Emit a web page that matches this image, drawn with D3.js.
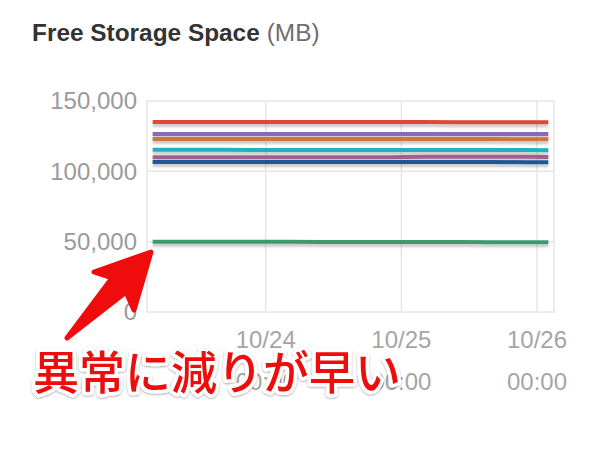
<!DOCTYPE html>
<html>
<head>
<meta charset="utf-8">
<script src="https://cdn.jsdelivr.net/npm/d3@7"></script>
<style>
  html, body { margin: 0; padding: 0; background: #fff; }
  svg { display: block; }
</style>
</head>
<body>
<svg id="chart" width="600" height="457"></svg>
<script>
// ---- data ----
const times = [
  "2016-10-23T04:00", "2016-10-23T10:00", "2016-10-23T16:00", "2016-10-23T22:00",
  "2016-10-24T04:00", "2016-10-24T10:00", "2016-10-24T16:00", "2016-10-24T22:00",
  "2016-10-25T04:00", "2016-10-25T10:00", "2016-10-25T16:00", "2016-10-25T22:00",
  "2016-10-26T02:00"
];
const seriesRed    = [135100,135100,135080,135060,135050,135040,135020,135000,135000,134980,134960,134950,134940];
const seriesPurple = [126600,126590,126580,126570,126560,126550,126540,126530,126520,126510,126500,126490,126480];
const seriesOrange = [123000,122990,122980,122970,122960,122950,122940,122930,122920,122910,122900,122890,122880];
const seriesCyan   = [115300,115280,115260,115240,115220,115200,115180,115160,115140,115120,115100,115080,115060];
const seriesMauve  = [110100,110090,110080,110070,110060,110050,110040,110030,110300,110300,110290,110280,110270];
const seriesBlue   = [106650,106640,106630,106620,106610,106600,106590,106580,106570,106560,106550,106540,106530];
const seriesGreen  = [49950,49930,49910,49890,49870,49850,49830,49810,49790,49770,49600,49580,49560];
const seriesNames  = ["red","purple","orange","cyan","mauve","blue","green"];
const seriesColors = ["#e0463b","#8c67b8","#d2733a","#1cb2c0","#a0608f","#1f5995","#3c9a6e"];
const yTickValues  = [0, 50000, 100000, 150000];
const yTickLabels  = ["0", "50,000", "100,000", "150,000"];
const xTickDates   = ["2016-10-24T00:00", "2016-10-25T00:00", "2016-10-26T00:00"];
const xTickLine1   = ["10/24", "10/25", "10/26"];
const xTickLine2   = ["00:00", "00:00", "00:00"];
const titleMain = "Free Storage Space";
const titleUnit = "(MB)";
const annotation = "異常に減りが早い";

// ---- setup ----
const parse = d3.timeParse("%Y-%m-%dT%H:%M");
const dates = times.map(parse);
const allSeries = [seriesRed, seriesPurple, seriesOrange, seriesCyan, seriesMauve, seriesBlue, seriesGreen];

const pLeft = 147, pRight = 554, pTop = 101, pBottom = 312;
const x = d3.scaleTime()
  .domain([parse("2016-10-23T03:00"), parse("2016-10-26T03:00")])
  .range([pLeft, pRight]);
const y = d3.scaleLinear().domain([0, 150000]).range([pBottom, pTop]);

const svg = d3.select("#chart");
const defs = svg.append("defs");
const sh = defs.append("filter").attr("id", "lineShadow")
  .attr("filterUnits", "userSpaceOnUse")
  .attr("x", 0).attr("y", 0).attr("width", 600).attr("height", 457);
sh.append("feDropShadow").attr("dx", 0).attr("dy", 3).attr("stdDeviation", 1.3)
  .attr("flood-color", "#000").attr("flood-opacity", 0.2);

const ts = defs.append("filter").attr("id", "textShadow")
  .attr("filterUnits", "userSpaceOnUse")
  .attr("x", 0).attr("y", 300).attr("width", 600).attr("height", 157);
ts.append("feDropShadow").attr("dx", 0).attr("dy", 1).attr("stdDeviation", 1.2)
  .attr("flood-color", "#000").attr("flood-opacity", 0.35);

// title
const title = svg.append("text")
  .attr("x", 32).attr("y", 41)
  .attr("font-family", "Liberation Sans, Arial, Helvetica, sans-serif")
  .attr("font-size", 24.4);
title.append("tspan").attr("font-weight", "bold").attr("fill", "#333").text(titleMain);
title.append("tspan").attr("fill", "#6e6e6e").attr("dx", 7).text(titleUnit);

// grid
const grid = svg.append("g");
grid.selectAll("line.h").data(yTickValues.slice(1, 3)).join("line")
  .attr("x1", pLeft).attr("x2", pRight)
  .attr("y1", d => y(d)).attr("y2", d => y(d))
  .attr("stroke", "#e6e6e6").attr("stroke-width", 1.5);
grid.selectAll("line.v").data(xTickDates.map(parse)).join("line")
  .attr("x1", d => x(d)).attr("x2", d => x(d))
  .attr("y1", pTop).attr("y2", pBottom)
  .attr("stroke", "#e6e6e6").attr("stroke-width", 1.5);
grid.append("rect")
  .attr("x", pLeft).attr("y", pTop).attr("width", pRight - pLeft).attr("height", pBottom - pTop)
  .attr("fill", "none").attr("stroke", "#e6e6e6").attr("stroke-width", 1.5);

// y axis labels
const yAxis = d3.axisLeft(y).tickValues(yTickValues)
  .tickFormat((d, i) => yTickLabels[i]).tickSize(0).tickPadding(0);
const gy = svg.append("g").attr("transform", "translate(137,0)").call(yAxis);
gy.select(".domain").remove();
gy.selectAll("text")
  .attr("font-family", "Liberation Sans, Arial, Helvetica, sans-serif")
  .attr("font-size", 24).attr("fill", "#9a9a9a");

// x axis labels (two lines)
const gx = svg.append("g");
const xl = gx.selectAll("text").data(xTickDates).join("text")
  .attr("text-anchor", "middle")
  .attr("font-family", "Liberation Sans, Arial, Helvetica, sans-serif")
  .attr("font-size", 24).attr("fill", "#a5a5a5");
xl.append("tspan").attr("x", d => x(parse(d))).attr("y", 348).text((d, i) => xTickLine1[i]);
xl.append("tspan").attr("x", d => x(parse(d))).attr("y", 390).text((d, i) => xTickLine2[i]);

// lines
const line = d3.line().x((d, i) => x(dates[i])).y(d => y(d));
svg.append("g").selectAll("path").data(allSeries).join("path")
  .attr("d", d => line(d))
  .attr("fill", "none")
  .attr("stroke", (d, i) => seriesColors[i])
  .attr("stroke-width", 4)
  .attr("stroke-linecap", "butt")
  .attr("filter", "url(#lineShadow)");

// arrow
svg.append("path")
  .attr("d", "M151,252 L134,310 L126,292 L67,338 L112,278 L94,272 Z")
  .attr("fill", "#f00c0c").attr("stroke", "#f00c0c")
  .attr("stroke-width", 5).attr("stroke-linejoin", "round");

// annotation text
svg.append("text")
  .attr("x", 33).attr("y", 389)
  .attr("font-family", "Noto Sans CJK JP, sans-serif")
  .attr("font-weight", 500)
  .attr("font-size", 46)
  .attr("fill", "#ee0a0a")
  .attr("stroke", "#fff").attr("stroke-width", 7).attr("stroke-linejoin", "round")
  .attr("paint-order", "stroke")
  .attr("filter", "url(#textShadow)")
  .text(annotation);
</script>
</body>
</html>
